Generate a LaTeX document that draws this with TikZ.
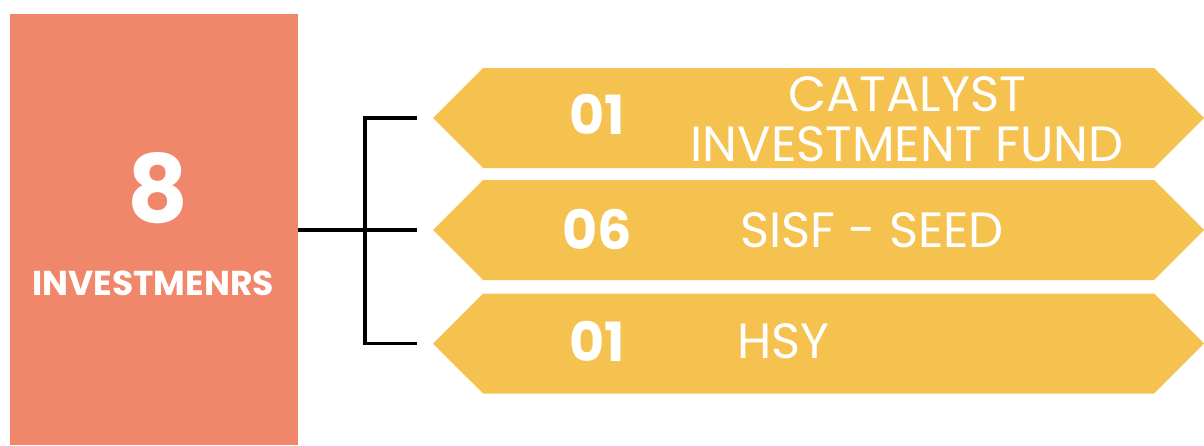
\documentclass[tikz,border=0pt]{standalone}
\usepackage{fontspec}
\setmainfont{Poppins}
\usetikzlibrary{shapes.symbols}
\definecolor{salmon}{HTML}{F1876A}
\definecolor{mustard}{HTML}{F6C24F}
\begin{document}
\begin{tikzpicture}[x=1pt,y=-1pt,
  banner/.style={signal,signal to=west and east,signal pointer angle=90,fill=mustard,minimum width=771pt,minimum height=100pt,inner sep=0pt},
  num/.style={text=white,font=\fontsize{54}{60}\selectfont\bfseries},
  fund/.style={text=white,font=\fontsize{49.5}{50}\selectfont,align=center}]
  \useasboundingbox (0,0) rectangle (1204,445);
  
  \node[fill=salmon,minimum width=288pt,minimum height=431pt,inner sep=0pt] (total) at (154,229.5) {};
  \node[text=white,font=\fontsize{94}{100}\selectfont\bfseries] (eight) at (158,188.5) {8};
  \node[text=white,font=\fontsize{34.5}{36}\selectfont\bfseries] (invest) at (153,283) {INVESTMENRS};
  
  \node[banner] (b1) at (818.5,118) {};
  \node[banner] (b2) at (818.5,230) {};
  \node[banner] (b3) at (818.5,343.5) {};
  
  \node[num] (n1) at (597,114) {01};
  \node[num] (n2) at (597,229) {06};
  \node[num] (n3) at (597,341) {01};
  \node[fund] (f1) at (907,119) {CATALYST\\INVESTMENT FUND};
  \node[fund] (f2) at (872,230) {SISF - SEED};
  \node[fund,anchor=west] (f3) at (734,341) {HSY};
  
  % bracket
  \coordinate (spine) at (365,233);
  \coordinate (t1) at ([xshift=-16pt]b1.west);
  \coordinate (t2) at ([xshift=-16pt]b2.west);
  \coordinate (t3) at ([xshift=-16pt]b3.west);
  \draw[line width=3.5pt] (total.east |- t2) -- (t2);
  \draw[line width=3.5pt] (t1) -- (t1 -| spine) -- (t3 -| spine) -- (t3);
\end{tikzpicture}
\end{document}
